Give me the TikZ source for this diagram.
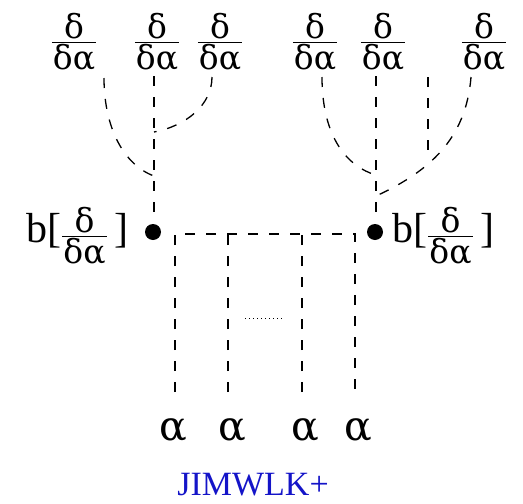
\documentclass[tikz,border=0pt]{standalone}
\usepackage{amsmath}
\usepackage{fontspec}
\setmainfont{Liberation Serif}
\newfontfamily\grfam{DejaVu Serif}
\definecolor{jblue}{RGB}{20,20,200}
\newcommand{\fg}[1]{\mbox{\grfam\fontsize{33}{38}\selectfont #1}}
\newcommand{\dda}{\ensuremath{\frac{\fg{δ}}{\fg{\kern1pt δα\kern1pt}}}}
\tikzset{
  dl/.style={line width=1.3pt, dash pattern=on 10pt off 11pt},
  big/.style={font=\grfam\fontsize{41}{46}\selectfont, inner sep=0pt},
  side/.style={font=\fontsize{42}{48}\selectfont, inner sep=0pt},
  frac/.style={font=\fontsize{42}{48}\selectfont, inner sep=0pt},
}
\begin{document}
\begin{tikzpicture}[x=1pt,y=-1pt]
\useasboundingbox (0,0) rectangle (523,504);
% top fractions
\node[frac] (f1) at (74,42) {\dda};
\node[frac] (f2) at (157,42) {\dda};
\node[frac] (f3) at (220,42) {\dda};
\node[frac] (f4) at (315,42) {\dda};
\node[frac] (f5) at (383,42) {\dda};
\node[frac] (f6) at (484,42) {\dda};
% dots
\coordinate (dL) at (153,232);
\coordinate (dR) at (375,232);
\fill (dL) circle (8);
\fill (dR) circle (8);
% side labels
\node[side, anchor=east] (bl) at (129,236) {b[\dda\,]};
\node[side, anchor=west] (br) at (392,236) {b[\dda\,]};
% left tree
\coordinate (la) at (104,78);
\coordinate (lb) at (154,76);
\coordinate (lc) at (212,77);
\coordinate (lj1) at (154,176);
\coordinate (lj2) at (154,132);
\coordinate (lbot) at (154,222);
\draw[dl] (lb) -- (lbot);
\draw[dl] (la) .. controls (104,128) and (124,165) .. (lj1);
\draw[dl] (lc) .. controls (212,105) and (186,126) .. (lj2);
% right tree
\coordinate (ra) at (322,77);
\coordinate (rb) at (376,76);
\coordinate (rc) at (428,77);
\coordinate (rd) at (471,77);
\coordinate (rj1) at (376,175);
\coordinate (rj2) at (376,196);
\coordinate (rj3) at (428,150);
\coordinate (rbot) at (376,222);
\draw[dl] (rb) -- (rbot);
\draw[dl] (ra) .. controls (322,138) and (348,167) .. (rj1);
\draw[dl] (rc) -- (rj3);
\draw[dl] (rd) .. controls (466,140) and (428,172) .. (rj2);
% ladder
\coordinate (h1) at (175,234);
\coordinate (h2) at (228,234);
\coordinate (h3) at (302,234);
\coordinate (h4) at (355,234);
\coordinate (v1) at (175,392);
\coordinate (v2) at (228,392);
\coordinate (v3) at (302,392);
\coordinate (v4) at (355,392);
\draw[dl] (v1) -- (h1) -- (h4) -- (v4);
\draw[dl] (v2) -- (h2);
\draw[dl] (v3) -- (h3);
\coordinate (d1) at (245,318);
\coordinate (d2) at (283,318);
\draw[line width=0.6pt, dash pattern=on 1pt off 3pt] (d1) -- (d2);
% alphas
\node[big] (a1) at (173,430) {α};
\node[big] (a2) at (232,430) {α};
\node[big] (a3) at (305,430) {α};
\node[big] (a4) at (358,430) {α};
\node[font=\fontsize{34}{38}\selectfont, text=jblue, inner sep=0pt] (lab) at (253,485) {JIMWLK+};
\end{tikzpicture}
\end{document}
